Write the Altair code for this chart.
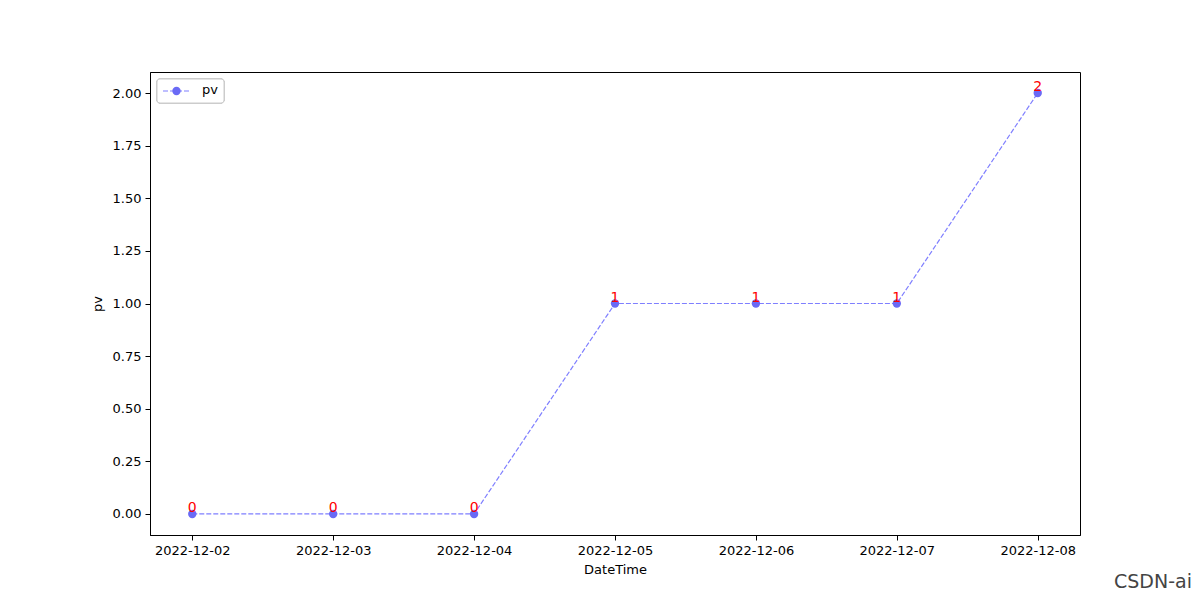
import altair as alt
import pandas as pd

dates = ["2022-12-02", "2022-12-03", "2022-12-04", "2022-12-05",
         "2022-12-06", "2022-12-07", "2022-12-08"]
pv = [0, 0, 0, 1, 1, 1, 2]
y_ticks = [0.0, 0.25, 0.5, 0.75, 1.0, 1.25, 1.5, 1.75, 2.0]

df = pd.DataFrame({"idx": list(range(len(dates))), "date": dates, "pv": pv,
                   "label": [str(v) for v in pv]})

W, H = 930, 463
FONT = "DejaVu Sans"
LINE_C = "#7f7fff"
PT_C = "#6a6af5"

label_expr = "[" + ",".join(f"'{d}'" for d in dates) + "][datum.value]"

x = alt.X("idx:Q", scale=alt.Scale(domain=[-0.3, 6.3], nice=False, zero=False),
          axis=alt.Axis(values=list(range(len(dates))), labelExpr=label_expr,
                        title="DateTime", grid=False, tickSize=5, tickColor="black",
                        domainColor="black", labelColor="black", labelFontSize=13,
                        labelFont=FONT, titleFont=FONT, titleFontSize=13,
                        titleFontWeight="normal", titleColor="black",
                        labelPadding=4, titlePadding=6, labelFlush=False))
y = alt.Y("pv:Q", scale=alt.Scale(domain=[-0.1, 2.1], nice=False, zero=False),
          axis=alt.Axis(values=y_ticks, format=".2f", title="pv", grid=False,
                        tickSize=5, tickColor="black", domainColor="black",
                        labelColor="black", labelFontSize=13, labelFont=FONT,
                        titleFont=FONT, titleFontSize=13, titleFontWeight="normal",
                        titleColor="black", labelPadding=4, titlePadding=8))

base = alt.Chart(df)
line = base.mark_line(color=LINE_C, strokeDash=[5, 2], strokeWidth=1.2).encode(x=x, y=y)
pts = base.mark_point(filled=True, color=PT_C, opacity=1, size=70).encode(x=x, y=y)
txt = base.mark_text(color="red", fontSize=14, font=FONT, baseline="bottom",
                     align="center", dy=1).encode(x=x, y=y, text="label:N")

# legend
leg_box = alt.Chart(df).mark_rect(fill="white", stroke="#cccccc", strokeWidth=1,
                                  cornerRadius=3).encode(
    x=alt.value(7), x2=alt.value(74), y=alt.value(7), y2=alt.value(31))
leg_line = alt.Chart(pd.DataFrame({"a": [0]})).mark_rule(
    color=LINE_C, strokeDash=[5, 2], strokeWidth=1.2).encode(
    x=alt.value(13), x2=alt.value(40), y=alt.value(19))
leg_pt = alt.Chart(pd.DataFrame({"a": [0]})).mark_point(
    filled=True, color=PT_C, opacity=1, size=70).encode(x=alt.value(26.5), y=alt.value(19))
leg_txt = alt.Chart(pd.DataFrame({"t": ["pv"]})).mark_text(
    align="left", baseline="middle", fontSize=13, font=FONT, color="black").encode(
    x=alt.value(52), y=alt.value(18), text="t:N")

wm = alt.Chart(pd.DataFrame({"t": ["CSDN-ai"]})).mark_text(
    align="right", baseline="middle", fontSize=19, font=FONT, color="#444444").encode(
    x=alt.value(1042), y=alt.value(510), text="t:N")

chart = alt.layer(line, pts, txt, leg_box, leg_line, leg_pt, leg_txt, wm).properties(
    width=W, height=H,
    padding={"left": 142, "top": 64, "right": 112, "bottom": 57},
    autosize=alt.AutoSizeParams(type="none"),
    background="white",
).configure_view(stroke="black", strokeWidth=1)

chart.save("out.html", embed_options={"renderer": "svg", "actions": False})
